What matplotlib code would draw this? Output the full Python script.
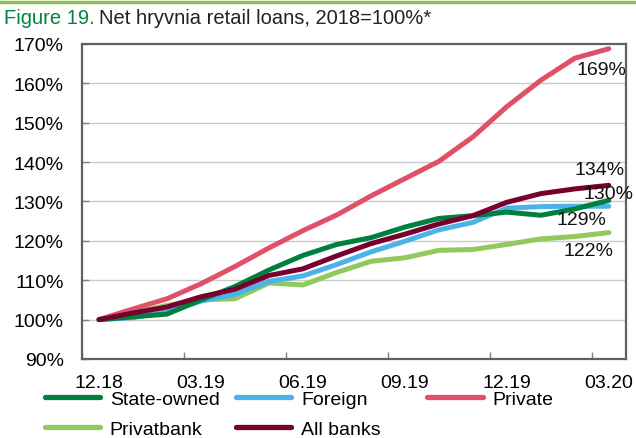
import matplotlib
matplotlib.use("Agg")
import matplotlib.pyplot as plt
from matplotlib.lines import Line2D
import numpy as np

plt.rcParams["font.family"] = ["Liberation Sans", "DejaVu Sans"]

# Monthly index, end of 2018 = 100%
months = ["12.18", "01.19", "02.19", "03.19", "04.19", "05.19", "06.19", "07.19",
          "08.19", "09.19", "10.19", "11.19", "12.19", "01.20", "02.20", "03.20"]
tick_labels = ["12.18", "03.19", "06.19", "09.19", "12.19", "03.20"]

state_owned = [100.0, 100.7, 101.4, 105.0, 108.4, 112.6, 116.3, 119.1,
               120.8, 123.5, 125.7, 126.4, 127.3, 126.5, 128.1, 130.3]
foreign = [100.0, 100.5, 102.0, 104.7, 106.4, 109.7, 111.1, 114.0,
           117.2, 119.9, 122.8, 124.7, 128.3, 128.7, 128.8, 128.8]
private = [100.0, 102.7, 105.3, 109.1, 113.5, 118.2, 122.6, 126.6,
           131.4, 135.8, 140.2, 146.4, 154.1, 160.8, 166.4, 168.8]
privatbank = [100.0, 101.7, 103.6, 105.0, 105.3, 109.3, 108.8, 112.0,
              114.8, 115.7, 117.6, 117.8, 119.1, 120.5, 121.1, 122.1]
all_banks = [100.0, 101.7, 103.2, 105.8, 107.7, 111.2, 112.9, 116.2,
             119.3, 121.7, 124.3, 126.4, 129.8, 132.0, 133.2, 134.1]

c_state = "#00803e"
c_foreign = "#4cb3e8"
c_private = "#e05068"
c_privat = "#92c95c"
c_all = "#780030"

fig = plt.figure(figsize=(6.36, 4.39), dpi=100)
ax = fig.add_axes([0.129, 0.180, 0.855, 0.7175])

x = np.arange(len(months))
series = [
    ("Private", private, c_private),
    ("Privatbank", privatbank, c_privat),
    ("Foreign", foreign, c_foreign),
    ("State-owned", state_owned, c_state),
    ("All banks", all_banks, c_all),
]
for name, vals, col in series:
    ax.plot(x, vals, color=col, lw=3.6, solid_capstyle="round", zorder=3)

ax.set_xlim(-0.5, 15.5)
ax.set_ylim(90, 170)
ax.set_yticks(np.arange(90, 171, 10))
ax.set_yticklabels([f"{v}%" for v in range(90, 171, 10)])
ax.tick_params(axis="y", direction="in", length=5, width=1, color="#808080",
               labelsize=14, pad=13)

# tick marks on month boundaries, labels under the months themselves
ax.set_xticks(np.arange(-0.5, 15.6, 3))
ax.set_xticklabels([])
ax.set_xticks(np.arange(0, 16, 3), minor=True)
ax.set_xticklabels(tick_labels, minor=True)
ax.tick_params(axis="x", which="major", direction="in", length=5, width=1, color="#808080")
ax.tick_params(axis="x", which="minor", length=0, labelsize=14, pad=11)

for v in range(100, 170, 10):
    ax.axhline(v, color="#c8cacc", lw=1, zorder=1)

for s in ax.spines.values():
    s.set_color("#606060")
    s.set_linewidth(1.6)

# end-of-period labels
end = len(months) - 1
notes = [
    (private[-1], "169%", -7, -21),
    (all_banks[-1], "134%", -9, 16),
    (state_owned[-1], "130%", 0, 7),
    (foreign[-1], "129%", -27, -13),
    (privatbank[-1], "122%", -20, -18),
]
for yv, txt, dx, dy in notes:
    ax.annotate(txt, (end, yv), xytext=(dx, dy), textcoords="offset pixels",
                ha="center", va="center", fontsize=14, color="#111111", zorder=4,
                annotation_clip=False)

# legend laid out in three fixed columns
cols = [
    [("State-owned", c_state), ("Privatbank", c_privat)],
    [("Foreign", c_foreign), ("All banks", c_all)],
    [("Private", c_private)],
]
col_x = [0.070, 0.371, 0.672]
for cx, entries in zip(col_x, cols):
    handles = [Line2D([], [], color=c, lw=3.8, solid_capstyle="round") for _, c in entries]
    fig.legend(handles, [n for n, _ in entries], loc="upper left",
               bbox_to_anchor=(cx, 0.108), frameon=False, fontsize=14,
               handlelength=2.85, handletextpad=0.5, labelspacing=0.62,
               borderaxespad=0, borderpad=0)

# header
fig.add_artist(Line2D([0, 1], [0.994, 0.994], color="#8cc152", lw=2.5,
                      transform=fig.transFigure))
title_a = fig.text(0.006, 0.958, "Figure 19.", color="#00843d", fontsize=14.5, va="center")
fig.canvas.draw()
bb = title_a.get_window_extent()
fig.text((bb.x1 + 4) / fig.bbox.width, 0.958, "Net hryvnia retail loans, 2018=100%*",
         color="#222222", fontsize=14.5, va="center")

fig.savefig("out.png", dpi=100)
